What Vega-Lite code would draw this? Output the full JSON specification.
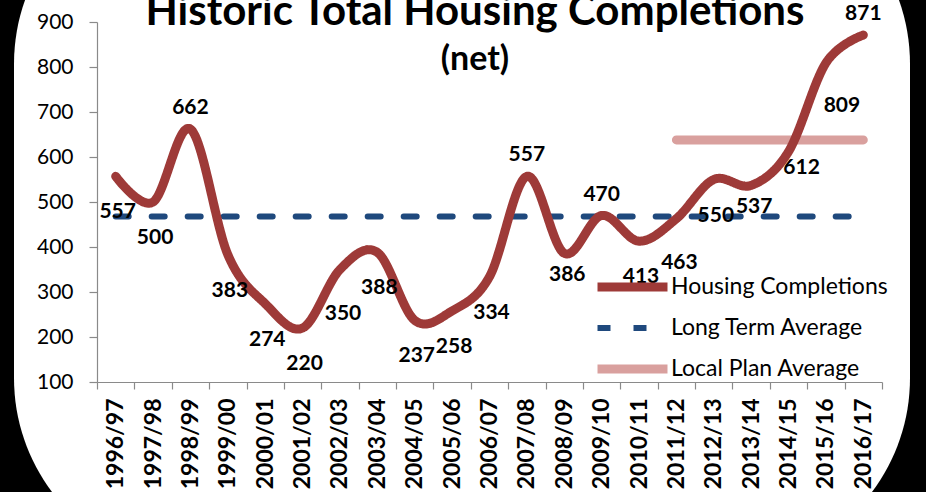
{
  "$schema": "https://vega.github.io/schema/vega-lite/v6.json",
  "width": 896,
  "height": 694,
  "autosize": {"type": "none"},
  "padding": {"left": 14, "right": 16, "top": -126, "bottom": -76},
  "background": "black",
  "title": {
    "text": "Historic Total Housing Completions",
    "subtitle": "(net)",
    "anchor": "middle",
    "frame": "group",
    "offset": -204,
    "dx": 13,
    "font": "Lato",
    "fontSize": 42,
    "fontWeight": "bold",
    "color": "black",
    "subtitleFont": "Lato",
    "subtitleFontSize": 34,
    "subtitleFontWeight": "bold",
    "subtitleColor": "black",
    "subtitlePadding": 9
  },
  "config": {
    "view": {"fill": "white", "stroke": null, "cornerRadius": 190},
    "font": "Lato",
    "axis": {
      "domainColor": "#8a8a8a",
      "tickColor": "#8a8a8a",
      "domainWidth": 1.2,
      "tickWidth": 1.2,
      "grid": false,
      "title": null,
      "labelColor": "black",
      "labelFont": "Lato"
    }
  },
  "datasets": {
    "completions": [
      {"year": "1996/97", "value": 557},
      {"year": "1997/98", "value": 500},
      {"year": "1998/99", "value": 662},
      {"year": "1999/00", "value": 383},
      {"year": "2000/01", "value": 274},
      {"year": "2001/02", "value": 220},
      {"year": "2002/03", "value": 350},
      {"year": "2003/04", "value": 388},
      {"year": "2004/05", "value": 237},
      {"year": "2005/06", "value": 258},
      {"year": "2006/07", "value": 334},
      {"year": "2007/08", "value": 557},
      {"year": "2008/09", "value": 386},
      {"year": "2009/10", "value": 470},
      {"year": "2010/11", "value": 413},
      {"year": "2011/12", "value": 463},
      {"year": "2012/13", "value": 550},
      {"year": "2013/14", "value": 537},
      {"year": "2014/15", "value": 612},
      {"year": "2015/16", "value": 809},
      {"year": "2016/17", "value": 871}
    ],
    "longTerm": [
      {"year": "1996/97", "value": 468},
      {"year": "2016/17", "value": 468}
    ],
    "localPlan": [
      {"year": "2011/12", "value": 638},
      {"year": "2016/17", "value": 638}
    ]
  },
  "encoding": {
    "x": {
      "field": "year",
      "type": "ordinal",
      "bandPosition": 0.5,
      "scale": {"type": "band", "paddingInner": 0, "paddingOuter": 0, "range": [83, 868]},
      "axis": {
        "orient": "bottom",
        "offset": -186,
        "tickBand": "extent",
        "tickSize": 7,
        "labelAngle": 270,
        "labelFontSize": 23,
        "labelFontWeight": "bold",
        "labelPadding": 9
      }
    },
    "y": {
      "field": "value",
      "type": "quantitative",
      "scale": {"domain": [100, 900], "range": [508, 148], "nice": false, "zero": false},
      "axis": {
        "orient": "left",
        "offset": -83,
        "values": [100, 200, 300, 400, 500, 600, 700, 800, 900],
        "tickSize": 8,
        "labelPadding": 16,
        "labelFontSize": 21
      }
    },
    "color": {
      "type": "nominal",
      "scale": {
        "domain": ["Housing Completions", "Long Term Average", "Local Plan Average"],
        "range": ["#9e3a38", "#1f497d", "#d9a09e"]
      },
      "legend": {
        "orient": "none",
        "legendX": 579,
        "legendY": 403,
        "title": null,
        "padding": 0,
        "symbolType": "stroke",
        "symbolSize": 4900,
        "clipHeight": 20,
        "rowPadding": 18,
        "labelOffset": -1,
        "labelFont": "Lato",
        "labelFontSize": 23,
        "labelColor": "black",
        "labelLimit": 0
      }
    },
    "strokeDash": {
      "type": "nominal",
      "scale": {
        "domain": ["Housing Completions", "Long Term Average", "Local Plan Average"],
        "range": [[1, 0], [13, 23], [1, 0]]
      },
      "legend": {"title": null}
    },
    "strokeWidth": {
      "type": "nominal",
      "scale": {
        "type": "ordinal",
        "domain": ["Housing Completions", "Long Term Average", "Local Plan Average"],
        "range": [9, 6, 9]
      },
      "legend": {"title": null}
    }
  },
  "layer": [
    {
      "data": {"name": "longTerm"},
      "mark": {"type": "line", "strokeCap": "round"},
      "encoding": {
        "color": {"datum": "Long Term Average"},
        "strokeDash": {"datum": "Long Term Average"},
        "strokeWidth": {"datum": "Long Term Average"}
      }
    },
    {
      "data": {"name": "localPlan"},
      "mark": {"type": "line", "strokeCap": "round"},
      "encoding": {
        "color": {"datum": "Local Plan Average"},
        "strokeDash": {"datum": "Local Plan Average"},
        "strokeWidth": {"datum": "Local Plan Average"}
      }
    },
    {
      "data": {"name": "completions"},
      "mark": {"type": "line", "interpolate": "cardinal", "strokeCap": "round", "strokeJoin": "round"},
      "encoding": {
        "color": {"datum": "Housing Completions"},
        "strokeDash": {"datum": "Housing Completions"},
        "strokeWidth": {"datum": "Housing Completions"}
      }
    },
    {
      "data": {"name": "completions"},
      "transform": [{"filter": {"field": "year", "oneOf": ["1998/99", "2007/08", "2009/10", "2016/17"]}}],
      "mark": {"type": "text", "font": "Lato", "fontWeight": "bold", "fontSize": 21, "baseline": "middle", "dy": -21, "color": "black"},
      "encoding": {"text": {"field": "value", "type": "quantitative"}}
    },
    {
      "data": {"name": "completions"},
      "transform": [{"filter": {"field": "year", "oneOf": ["1996/97", "1997/98", "1999/00", "2000/01", "2001/02", "2003/04", "2004/05", "2005/06", "2006/07", "2010/11", "2012/13"]}}],
      "mark": {"type": "text", "font": "Lato", "fontWeight": "bold", "fontSize": 21, "baseline": "middle", "dx": 2, "dy": 36, "color": "black"},
      "encoding": {"text": {"field": "value", "type": "quantitative"}}
    },
    {
      "data": {"name": "completions"},
      "transform": [{"filter": {"field": "year", "oneOf": ["2008/09", "2013/14"]}}],
      "mark": {"type": "text", "font": "Lato", "fontWeight": "bold", "fontSize": 21, "baseline": "middle", "dx": 3, "dy": 22, "color": "black"},
      "encoding": {"text": {"field": "value", "type": "quantitative"}}
    },
    {
      "data": {"name": "completions"},
      "transform": [{"filter": {"field": "year", "oneOf": ["2002/03", "2011/12"]}}],
      "mark": {"type": "text", "font": "Lato", "fontWeight": "bold", "fontSize": 21, "baseline": "middle", "dx": 3, "dy": 44, "color": "black"},
      "encoding": {"text": {"field": "value", "type": "quantitative"}}
    },
    {
      "data": {"name": "completions"},
      "transform": [{"filter": {"field": "year", "equal": "2014/15"}}],
      "mark": {"type": "text", "font": "Lato", "fontWeight": "bold", "fontSize": 21, "baseline": "middle", "dx": 13, "dy": 16, "color": "black"},
      "encoding": {"text": {"field": "value", "type": "quantitative"}}
    },
    {
      "data": {"name": "completions"},
      "transform": [{"filter": {"field": "year", "equal": "2015/16"}}],
      "mark": {"type": "text", "font": "Lato", "fontWeight": "bold", "fontSize": 21, "baseline": "middle", "dx": 16, "dy": 43, "color": "black"},
      "encoding": {"text": {"field": "value", "type": "quantitative"}}
    }
  ]
}
